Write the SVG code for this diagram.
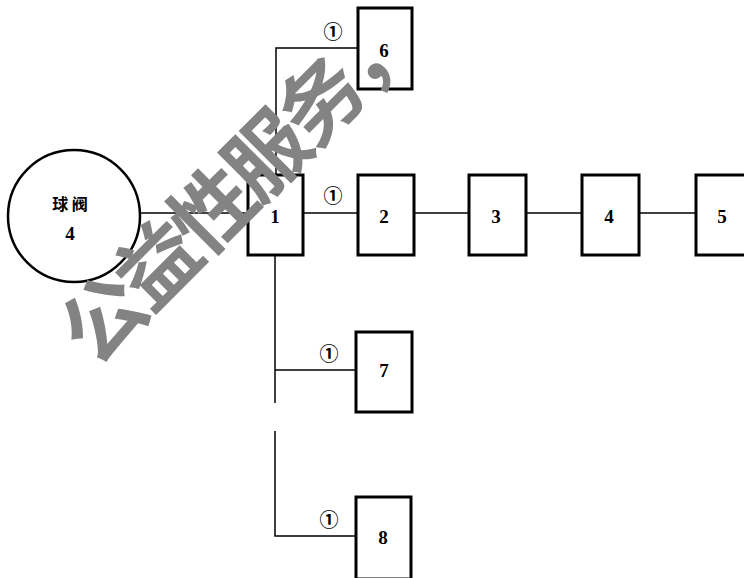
<svg xmlns="http://www.w3.org/2000/svg" width="744" height="578" viewBox="0 0 744 578">
<style>
.box{fill:#fff;stroke:#000;stroke-width:3}
.ln{fill:none;stroke:#000;stroke-width:1.5}
.num{font-family:"Liberation Serif","Times New Roman",serif;font-size:19px;font-weight:bold;text-anchor:middle;dominant-baseline:central;fill:#000}
.mk{font-family:"Noto Sans CJK SC","DejaVu Sans",sans-serif;font-size:19px;font-weight:bold;text-anchor:middle;dominant-baseline:central;fill:#000}
.cn{font-family:"Noto Sans CJK SC",sans-serif;font-size:16px;font-weight:bold;text-anchor:middle;dominant-baseline:central;fill:#000}
.wm{font-family:"Noto Sans CJK SC",sans-serif;font-size:82px;font-weight:bold;letter-spacing:-5px;text-anchor:middle;dominant-baseline:central;fill:#838383}
</style>
<rect width="744" height="578" fill="#fff"/>
<g id="connectors">
<path class="ln" d="M140 213 H248"/>
<path class="ln" d="M303 213 H358"/>
<path class="ln" d="M414 213 H469"/>
<path class="ln" d="M526 213 H582"/>
<path class="ln" d="M639 213 H696"/>
<path class="ln" d="M276 175 V48 H358"/>
<path class="ln" d="M275 255 V403"/>
<path class="ln" d="M275 370 H356"/>
<path class="ln" d="M275 431 V536 H356"/>
<text class="mk" x="333" y="30">①</text>
<text class="mk" x="333" y="194">①</text>
<text class="mk" x="329" y="352">①</text>
<text class="mk" x="329" y="518">①</text>
</g>
<g id="valve">
<circle cx="74" cy="216" r="66" fill="#fff" stroke="#000" stroke-width="2.5"/>
<text class="cn" x="70" y="203">球 阀</text>
<text class="num" x="70" y="233">4</text>
</g>
<g id="n1"><rect class="box" x="248" y="175" width="55" height="80"/><text class="num" x="275" y="216">1</text></g>
<g id="n2"><rect class="box" x="358" y="175" width="56" height="80"/><text class="num" x="384" y="216">2</text></g>
<g id="n3"><rect class="box" x="469" y="175" width="57" height="80"/><text class="num" x="496" y="216">3</text></g>
<g id="n4"><rect class="box" x="582" y="175" width="57" height="80"/><text class="num" x="609" y="216">4</text></g>
<g id="n5"><rect class="box" x="696" y="175" width="60" height="80"/><text class="num" x="722" y="216">5</text></g>
<g id="n6"><rect class="box" x="358" y="8" width="54" height="81"/><text class="num" x="384" y="50">6</text></g>
<g id="n7"><rect class="box" x="356" y="332" width="56" height="80"/><text class="num" x="384" y="370">7</text></g>
<g id="n8"><rect class="box" x="356" y="497" width="55" height="82"/><text class="num" x="383" y="537">8</text></g>
<g id="watermark">
<text class="wm" transform="translate(234 180) rotate(-45)">公益性服务，</text>
</g>
</svg>
